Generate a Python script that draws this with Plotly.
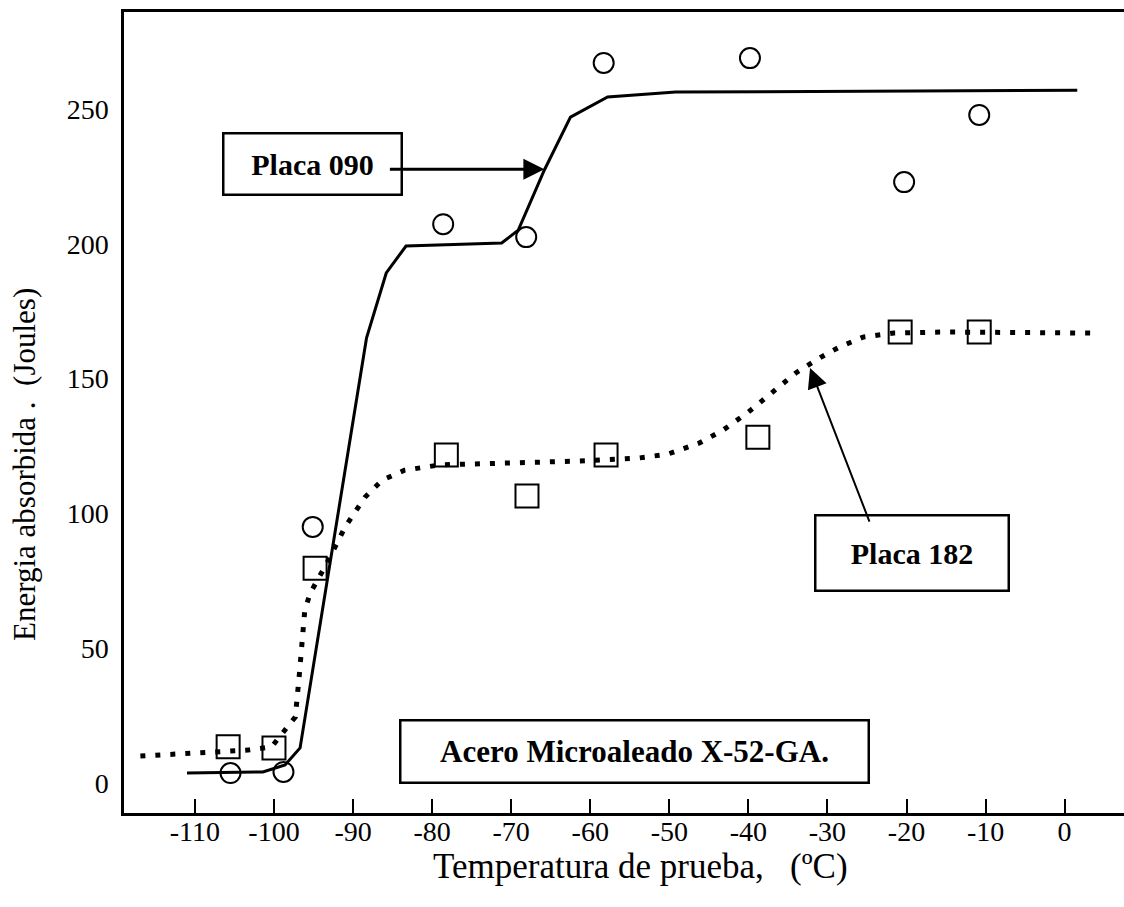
import plotly.graph_objects as go

# ---- data ----
# Placa 090 : measured points (circles) and fitted curve (solid)
t090_pts = [-105.5, -98.8, -95.1, -78.6, -68.1, -58.3, -39.8, -20.3, -10.8]
e090_pts = [3.7, 4.1, 95.0, 207.3, 202.5, 267.1, 268.9, 222.9, 247.8]
t090_fit = [-111.0, -101.4, -98.6, -96.7, -88.3, -85.8, -83.3, -71.2, -69.1, -65.8, -62.5, -57.8, -49.2, 1.6]
e090_fit = [3.7, 4.1, 6.7, 13.0, 165.0, 189.2, 199.2, 200.3, 205.1, 227.4, 247.0, 254.5, 256.3, 257.0]

# Placa 182 : measured points (squares) and fitted curve (dotted)
t182_pts = [-105.8, -100.0, -94.8, -78.2, -68.0, -58.0, -38.8, -20.8, -10.8]
e182_pts = [13.4, 13.0, 79.7, 121.7, 106.5, 121.7, 128.3, 167.3, 167.3]
t182_fit = [-116.9, -103.3, -100.3, -98.5, -97.3, -96.8, -96.1, -95.4, -93.3, -91.0, -88.5,
            -86.3, -83.5, -79.0, -69.4, -61.7, -54.0, -50.2, -46.2, -43.2, -40.0, -37.0,
            -34.0, -30.8, -28.5, -25.5, -21.6, -15.4, 3.9]
e182_fit = [10.0, 12.2, 13.4, 20.4, 24.5, 40.0, 64.2, 70.5, 81.6, 95.0, 106.0,
            112.4, 116.0, 118.0, 118.7, 119.4, 120.5, 122.0, 126.1, 130.9, 137.6, 144.7,
            152.1, 158.0, 161.7, 165.4, 166.9, 167.3, 166.9]

x_tickvals = [-110, -100, -90, -80, -70, -60, -50, -40, -30, -20, -10, 0]
x_ticktext = ["-110", "-100", "-90", "-80", "-70", "-60", "-50", "-40", "-30", "-20", "-10", "0"]
y_tickvals = [0, 50, 100, 150, 200, 250]

SERIF = "Liberation Serif, Times New Roman, serif"

fig = go.Figure()

fig.add_trace(go.Scatter(x=t182_fit, y=e182_fit, mode="lines",
                         line=dict(color="black", width=5, dash="5px,10px"),
                         hoverinfo="skip", showlegend=False))
fig.add_trace(go.Scatter(x=t090_fit, y=e090_fit, mode="lines",
                         line=dict(color="black", width=3),
                         hoverinfo="skip", showlegend=False))
fig.add_trace(go.Scatter(x=t090_pts, y=e090_pts, mode="markers",
                         marker=dict(symbol="circle-open", size=20, color="black",
                                     line=dict(width=2, color="black")),
                         showlegend=False))
fig.add_trace(go.Scatter(x=t182_pts, y=e182_pts, mode="markers",
                         marker=dict(symbol="square-open", size=23, color="black",
                                     line=dict(width=2, color="black")),
                         showlegend=False))

# text boxes (positions in page pixels from top-left, converted below)
box = dict(showarrow=False, bordercolor="black", borderwidth=2.5, borderpad=0,
           bgcolor="white", xanchor="center", yanchor="middle", xref="paper", yref="paper")
fig.add_annotation(x=312, y=163.5, text="<b>Placa 090</b>",
                   font=dict(family=SERIF, size=30, color="black"), width=176, height=59, **box)
fig.add_annotation(x=912, y=553, text="<b>Placa 182</b>",
                   font=dict(family=SERIF, size=30, color="black"), width=191, height=73, **box)
fig.add_annotation(x=634, y=751, text="<b>Acero Microaleado X-52-GA.</b>",
                   font=dict(family=SERIF, size=31, color="black"), width=466, height=60, **box)

# axis titles
fig.add_annotation(x=640, y=866, xref="paper", yref="paper",
                   text="Temperatura de prueba,   (ºC)", showarrow=False,
                   xanchor="center", yanchor="middle",
                   font=dict(family=SERIF, size=35, color="black"))
fig.add_annotation(x=24, y=465, xref="paper", yref="paper",
                   text="Energia absorbida .  (Joules)", showarrow=False, textangle=-90,
                   xanchor="center", yanchor="middle",
                   font=dict(family=SERIF, size=31, color="black"))

# convert page-pixel annotation positions to paper fractions
W, H = 1124, 907
L, R, T, B = 124, 0, 12, 94
pw, ph = W - L - R, H - T - B
for a in fig.layout.annotations:
    a.x = (a.x - L) / pw
    a.y = (H - a.y - B) / ph

# arrows (tips on the curves, in data coordinates)
fig.add_annotation(x=-65.8, y=227.7, xref="x", yref="y", text="", showarrow=True,
                   ax=-156, ay=0, arrowhead=2, arrowsize=1.4, arrowwidth=3, arrowcolor="black")
fig.add_annotation(x=-32.2, y=153.9, xref="x", yref="y", text="", showarrow=True,
                   ax=60, ay=155, arrowhead=2, arrowsize=2.0, arrowwidth=2, arrowcolor="black")

fig.update_layout(
    width=W, height=H,
    margin=dict(l=L, r=R, t=T, b=B),
    paper_bgcolor="white", plot_bgcolor="white",
    font=dict(family=SERIF, color="black"),
    showlegend=False,
)
fig.update_xaxes(range=[-118.97, 7.51], tickvals=x_tickvals, ticktext=x_ticktext,
                 showgrid=False, zeroline=False, showline=True, linecolor="black",
                 linewidth=2.5, mirror=True, ticks="inside", ticklen=14, tickwidth=1.5,
                 tickcolor="black", tickfont=dict(family=SERIF, size=28, color="black"),
                 ticklabelstandoff=-8)
fig.update_yaxes(range=[-11.13, 286.0], tickvals=y_tickvals,
                 showgrid=False, zeroline=False, showline=True, linecolor="black",
                 linewidth=2.5, ticks="", tickfont=dict(family=SERIF, size=28, color="black"),
                 ticklabelstandoff=7)

fig.write_html("out.html")
